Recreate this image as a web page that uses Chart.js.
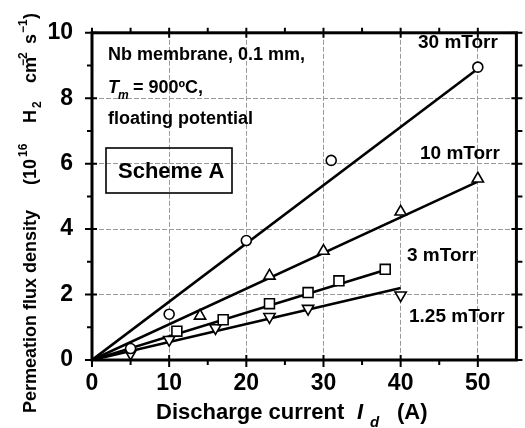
<!DOCTYPE html>
<html>
<head>
<meta charset="utf-8">
<script src="https://cdn.jsdelivr.net/npm/chart.js@4.4.0/dist/chart.umd.min.js"></script>
<style>
  html, body { margin: 0; padding: 0; background: #fff; }
</style>
</head>
<body>
<canvas id="myChart" width="525" height="428"></canvas>
<script>
// discharge current (A) / permeation flux (1e16 H2 cm^-2 s^-1)
const current30 = [5, 10, 20, 31, 50];
const flux30 = [0.35, 1.4, 3.65, 6.1, 8.95];
const current10 = [14, 23, 30, 40, 50];
const flux10 = [1.35, 2.57, 3.33, 4.53, 5.54];
const current3 = [11, 17, 23, 28, 32, 38];
const flux3 = [0.88, 1.23, 1.72, 2.06, 2.42, 2.77];
const current125 = [5, 10, 16, 23, 28, 40];
const flux125 = [0.2, 0.62, 0.98, 1.32, 1.57, 1.98];

// linear fits through the origin, end points
const fitEndX = [50, 50, 38, 40];
const fitEndY = [8.9, 5.45, 2.75, 2.2];
const pressures = ['30 mTorr', '10 mTorr', '3 mTorr', '1.25 mTorr'];

const xTicks = [0, 10, 20, 30, 40, 50];
const yTicks = [0, 2, 4, 6, 8, 10];

const FONT = '"Liberation Sans", Arial, sans-serif';

const pts = (xs, ys) => xs.map((v, i) => ({x: v, y: ys[i]}));
const fit = i => [{x: 0, y: 0}, {x: fitEndX[i], y: fitEndY[i]}];

const markerStyle = {
    showLine: false,
    borderColor: '#000',
    backgroundColor: '#fff',
    pointBorderWidth: 1.6,
    order: 1,
};
const fitStyle = {
    showLine: true,
    borderColor: '#000',
    borderWidth: 2.6,
    pointRadius: 0,
    order: 2,
};

const decor = {
    id: 'decor',
    afterDraw(chart) {
        const {ctx, chartArea: a, scales: {x, y}} = chart;
        ctx.save();
        ctx.strokeStyle = '#000';
        ctx.fillStyle = '#000';

        // tick marks on all four sides
        ctx.lineWidth = 2;
        ctx.beginPath();
        for (let v = 0; v < 55; v += 5) {
            const px = x.getPixelForValue(v);
            const major = xTicks.includes(v);
            ctx.moveTo(px, a.bottom - (major ? 5 : 0));
            ctx.lineTo(px, a.bottom + (major ? 7 : 5));
            ctx.moveTo(px, a.top - 5);
            ctx.lineTo(px, a.top + (major ? 5 : 0));
        }
        for (let v = 0; v <= 10; v += 1) {
            const py = y.getPixelForValue(v);
            const major = yTicks.includes(v);
            ctx.moveTo(a.left - (major ? 7 : 5), py);
            ctx.lineTo(a.left + (major ? 5 : 0), py);
            ctx.moveTo(a.right - (major ? 5 : 0), py);
            ctx.lineTo(a.right + 6, py);
        }
        ctx.stroke();

        // frame
        ctx.lineWidth = 3;
        ctx.strokeRect(a.left, a.top, a.right - a.left, a.bottom - a.top);

        // pressure labels
        ctx.textAlign = 'left';
        ctx.textBaseline = 'alphabetic';
        ctx.font = 'bold 19px ' + FONT;
        ctx.fillText(pressures[0], 418, 48);
        ctx.fillText(pressures[1], 420, 159);
        ctx.fillText(pressures[2], 407, 261);
        ctx.fillText(pressures[3], 409, 322);

        // conditions
        ctx.font = 'bold 18px ' + FONT;
        ctx.fillText('Nb membrane, 0.1 mm,', 108, 60);
        ctx.font = 'italic bold 18px ' + FONT;
        ctx.fillText('T', 108, 93);
        ctx.font = 'italic bold 12px ' + FONT;
        ctx.fillText('m', 118, 99);
        ctx.font = 'bold 18px ' + FONT;
        ctx.fillText('= 900\u00baC,', 133, 93);
        ctx.fillText('floating potential', 108, 124);

        // Scheme box
        ctx.lineWidth = 1.6;
        ctx.strokeRect(106, 148, 126, 45);
        ctx.font = 'bold 22px ' + FONT;
        ctx.fillText('Scheme A', 118, 178);

        // x title
        ctx.font = 'bold 22px ' + FONT;
        ctx.fillText('Discharge current', 156, 419);
        ctx.font = 'italic bold 22px ' + FONT;
        ctx.fillText('I', 357, 419);
        ctx.font = 'italic bold 15px ' + FONT;
        ctx.fillText('d', 370, 427);
        ctx.font = 'bold 22px ' + FONT;
        ctx.fillText('(A)', 397, 419);

        // y title, rotated
        ctx.translate(36, 413);
        ctx.rotate(-Math.PI / 2);
        const main = 'bold 18px ' + FONT;
        const small = 'bold 12px ' + FONT;
        const parts = [
            ['Permeation flux density', 0, main, 0],
            ['(10', 228, main, 0],
            ['16', 256, small, -9],
            ['H', 290, main, 0],
            ['2', 305, small, 5],
            ['cm', 330, main, 0],
            ['\u22122', 347, small, -9],
            ['s', 369, main, 0],
            ['\u22121', 380, small, -9],
            [')', 394, main, 0],
        ];
        for (const [t, off, f, dy] of parts) {
            ctx.font = f;
            ctx.fillText(t, off, dy);
        }
        ctx.restore();
    }
};

const ctx = document.getElementById('myChart').getContext('2d');
const myChart = new Chart(ctx, {
    type: 'scatter',
    data: {
        datasets: [
            {...fitStyle, label: 'fit 30', data: fit(0)},
            {...fitStyle, label: 'fit 10', data: fit(1)},
            {...fitStyle, label: 'fit 3', data: fit(2)},
            {...fitStyle, label: 'fit 1.25', data: fit(3)},
            {...markerStyle, label: pressures[0], data: pts(current30, flux30),
                pointStyle: 'circle', pointRadius: 5},
            {...markerStyle, label: pressures[1], data: pts(current10, flux10),
                pointStyle: 'triangle', pointRadius: 6.5},
            {...markerStyle, label: pressures[2], data: pts(current3, flux3),
                pointStyle: 'rect', pointRadius: 7},
            {...markerStyle, label: pressures[3], data: pts(current125, flux125),
                pointStyle: 'triangle', pointRotation: 180, pointRadius: 6.5},
        ]
    },
    plugins: [decor],
    options: {
        responsive: false,
        animation: false,
        devicePixelRatio: 1,
        layout: {padding: {top: 19, right: 6, left: 0, bottom: 0}},
        plugins: {
            legend: {display: false},
            tooltip: {enabled: false},
        },
        scales: {
            x: {
                type: 'linear',
                min: 0,
                max: 55,
                afterFit: s => { s.height = 68; },
                afterBuildTicks: s => { s.ticks = xTicks.map(v => ({value: v})); },
                ticks: {
                    color: '#000',
                    padding: 10,
                    font: {family: FONT, size: 23, weight: 'bold'},
                    autoSkip: false,
                    maxRotation: 0,
                },
                grid: {color: '#9a9a9a', lineWidth: 1, drawTicks: false},
                border: {display: false, dash: [5, 2]},
            },
            y: {
                type: 'linear',
                min: 0,
                max: 10,
                afterFit: s => { s.width = 92; },
                afterBuildTicks: s => { s.ticks = yTicks.map(v => ({value: v})); },
                ticks: {
                    color: '#000',
                    padding: 19,
                    font: {family: FONT, size: 23, weight: 'bold'},
                    autoSkip: false,
                },
                grid: {color: '#9a9a9a', lineWidth: 1, drawTicks: false},
                border: {display: false, dash: [5, 2]},
            }
        }
    }
});
</script>
</body>
</html>
